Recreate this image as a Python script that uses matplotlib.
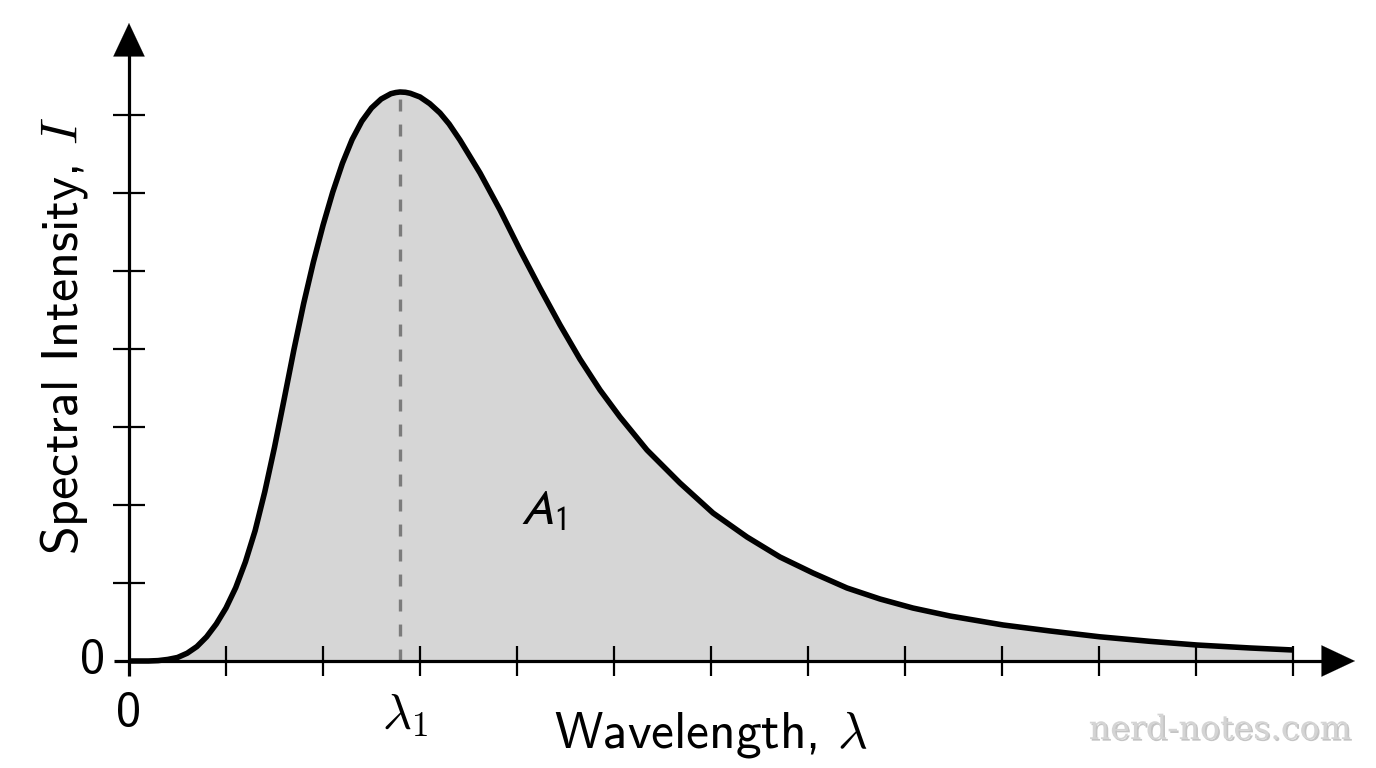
import matplotlib
matplotlib.use("Agg")
import matplotlib.pyplot as plt
import matplotlib.patheffects as pe

plt.rcParams['lines.scale_dashes'] = False

# ---- data (in tick units) ----
wavelength = [0.0, 0.2, 0.3, 0.4, 0.5, 0.6, 0.7, 0.8, 0.9, 1.0,
              1.1, 1.2, 1.3, 1.4, 1.5, 1.6, 1.7, 1.8, 1.9, 2.0,
              2.1, 2.2, 2.3, 2.4, 2.5, 2.6, 2.7, 2.75, 2.794, 2.85,
              2.9, 3.0, 3.1, 3.206, 3.3, 3.412, 3.619, 3.825, 4.031, 4.237,
              4.443, 4.649, 4.856, 5.062, 5.340, 5.680, 6.021, 6.371, 6.711, 7.052,
              7.402, 7.742, 8.082, 8.464, 9.010, 9.495, 10.010, 10.526, 11.010, 11.557,
              12.0]
intensity = [0.0, 0.0, 0.005, 0.02, 0.045, 0.10, 0.185, 0.31, 0.475, 0.68,
             0.94, 1.27, 1.67, 2.17, 2.74, 3.36, 3.99, 4.58, 5.11, 5.585,
             6.01, 6.38, 6.685, 6.92, 7.09, 7.205, 7.273, 7.288, 7.295, 7.291,
             7.278, 7.231, 7.146, 7.026, 6.885, 6.679, 6.256, 5.782, 5.269, 4.78,
             4.31, 3.87, 3.474, 3.128, 2.705, 2.282, 1.897, 1.590, 1.333, 1.128,
             0.936, 0.795, 0.679, 0.577, 0.462, 0.385, 0.310, 0.252, 0.205, 0.167,
             0.141]
peak_wavelength = 2.794
peak_intensity = 7.295
x_ticks = list(range(0, 13))
y_ticks = list(range(1, 8))

fig = plt.figure(figsize=(13.76, 7.68), dpi=100)
ax = fig.add_axes([0, 0, 1, 1])
ax.set_xlim(-129 / 97, (1376 - 129) / 97)
ax.set_ylim((661 - 768) / 78, 661 / 78)
ax.axis('off')

# fill under curve
ax.fill_between(wavelength, 0, intensity, color='#d6d6d6', lw=0, zorder=1)

# dashed peak line
ax.plot([peak_wavelength, peak_wavelength], [0, peak_intensity - 0.05],
        color='#7c7c7c', lw=2.4, dashes=(8.6, 9.4), zorder=2)

# axes lines with arrows
xt = 15 / 97
yt = 15 / 78
ax.plot([-xt, 12.4], [0, 0], color='black', lw=2.3, zorder=3, solid_capstyle='butt')
ax.plot([0, 0], [-yt, 7.9], color='black', lw=2.3, zorder=3, solid_capstyle='butt')
arrow_style = '-|>,head_length=1.0,head_width=0.47'
ax.annotate('', xy=((1355 - 129) / 97, 0), xytext=(12.3, 0),
            arrowprops=dict(arrowstyle=arrow_style, mutation_scale=24, color='black',
                            lw=0.1, shrinkA=0, shrinkB=0), zorder=3)
ax.annotate('', xy=(0, (661 - 23) / 78), xytext=(0, 7.8),
            arrowprops=dict(arrowstyle=arrow_style, mutation_scale=24, color='black',
                            lw=0.1, shrinkA=0, shrinkB=0), zorder=3)

# ticks
ax.vlines(x_ticks[1:], -yt, yt, color='black', lw=1.6, zorder=3)
ax.hlines(y_ticks, -16 / 97, 16 / 97, color='black', lw=1.6, zorder=3)

# curve
ax.plot(wavelength, intensity, color='black', lw=4.0, solid_joinstyle='round',
        solid_capstyle='butt', zorder=4)

# text
fs = 36
ax.text(-37 / 97, 0, '0', family='cmss10', fontsize=fs, ha='center', va='center')
ax.text(0, -30 / 78, '0', family='cmss10', fontsize=fs, ha='center', va='top')
ax.text(peak_wavelength + 0.05, -30 / 78, r'$\lambda_1$', fontsize=fs, ha='center',
        va='top', math_fontfamily='cm')
ax.text((711 - 129) / 97, (661 - 735) / 78, r'Wavelength, $\lambda$', family='cmss10',
        fontsize=37, ha='center', va='center', math_fontfamily='cm')
ax.text((64 - 129) / 97, (661 - 336) / 78, r'Spectral Intensity, $I$', family='cmss10',
        fontsize=37.5, ha='center', va='center', rotation=90, math_fontfamily='cm')
ax.text((543 - 129) / 97, (661 - 510) / 78, r'$A_1$', fontsize=fs, ha='center',
        va='center', math_fontfamily='stixsans')

ax.text((1220 - 129) / 97, (661 - 730) / 78, 'nerd-notes.com', family='DejaVu Serif',
        fontsize=24, ha='center', va='center', color='#d4d4d4',
        path_effects=[pe.withSimplePatchShadow(offset=(1.2, -1.2), shadow_rgbFace='#8a8a8a',
                                               alpha=0.5)])

fig.savefig('out.png', dpi=100)
